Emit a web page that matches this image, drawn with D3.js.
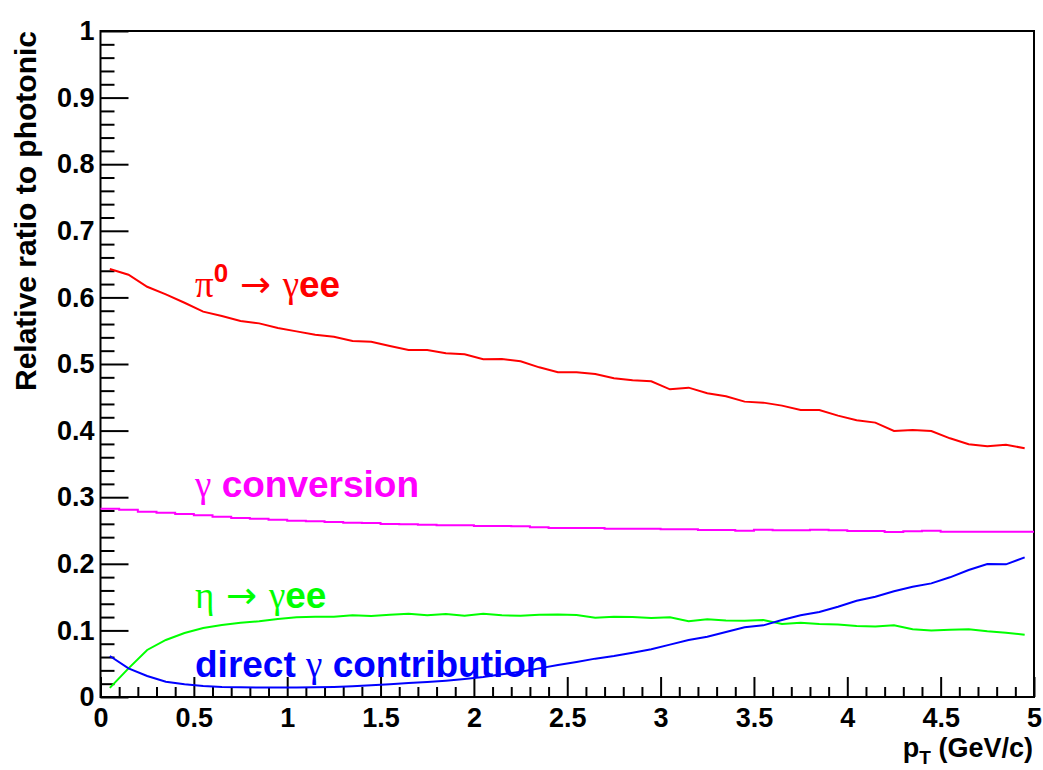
<!DOCTYPE html>
<html>
<head>
<meta charset="utf-8">
<script src="https://cdn.jsdelivr.net/npm/d3@7"></script>
<style>
  body { margin: 0; background: #fff; }
  svg { font-family: "Liberation Sans", Arial, sans-serif; font-weight: bold; }
  .greek { font-family: "Liberation Serif", "DejaVu Serif", serif; font-weight: normal; }
  .arrow { font-family: "DejaVu Sans", sans-serif; font-weight: normal; }
</style>
</head>
<body>
<div id="chart"></div>
<script>
// taille de la fenêtre
const width = 1043;
const height = 770;

// centres des bins (pas de 0.1 GeV/c) et bords des bins
const binCenters = d3.range(50).map(k => +(0.05 + 0.1 * k).toFixed(2));
const binEdges = d3.range(51).map(k => +(0.1 * k).toFixed(1));

// valeurs
const pi0Values = [0.6426, 0.634, 0.616, 0.6046, 0.592, 0.5786, 0.572, 0.5646, 0.561, 0.554,
  0.549, 0.544, 0.541, 0.5345, 0.5335, 0.527, 0.521, 0.521, 0.516, 0.5145,
  0.507, 0.5075, 0.504, 0.495, 0.4875, 0.4875, 0.485, 0.4785, 0.4755, 0.474,
  0.462, 0.4645, 0.456, 0.4515, 0.4435, 0.442, 0.4375, 0.431, 0.431, 0.4225,
  0.4155, 0.412, 0.3994, 0.401, 0.3994, 0.3884, 0.3794, 0.3764, 0.3789, 0.3734];

const conversionValues = [0.2827, 0.2812, 0.2782, 0.2767, 0.2748, 0.2728, 0.2707, 0.2688, 0.2677, 0.2662,
  0.2647, 0.2638, 0.2628, 0.2617, 0.2613, 0.2598, 0.2593, 0.2587, 0.2578, 0.2578,
  0.2568, 0.2568, 0.2563, 0.2548, 0.2538, 0.2538, 0.2538, 0.2528, 0.2528, 0.2528,
  0.2518, 0.2518, 0.2508, 0.2508, 0.2497, 0.2512, 0.2502, 0.2502, 0.2512, 0.2502,
  0.2492, 0.2492, 0.2477, 0.2487, 0.2497, 0.2482, 0.2482, 0.2482, 0.2482, 0.2482];

const etaValues = [0.0137, 0.043, 0.0706, 0.0856, 0.096, 0.1036, 0.108, 0.1116, 0.1136, 0.117,
  0.1196, 0.1206, 0.1206, 0.1226, 0.1216, 0.1236, 0.125, 0.1226, 0.1246, 0.122,
  0.125, 0.1226, 0.122, 0.1236, 0.124, 0.1231, 0.119, 0.1206, 0.12, 0.1186,
  0.1196, 0.1136, 0.1166, 0.115, 0.1146, 0.1156, 0.1096, 0.1116, 0.1096, 0.109,
  0.1066, 0.106, 0.1076, 0.1016, 0.1, 0.101, 0.1016, 0.0986, 0.0966, 0.0936];

const directValues = [0.0616, 0.043, 0.0315, 0.023, 0.019, 0.0165, 0.015, 0.0145, 0.0143, 0.0142,
  0.0142, 0.0145, 0.015, 0.016, 0.0175, 0.019, 0.021, 0.0225, 0.0245, 0.027,
  0.030, 0.034, 0.038, 0.043, 0.048, 0.0526, 0.0576, 0.0616, 0.0666, 0.0716,
  0.0786, 0.0856, 0.0906, 0.0976, 0.1046, 0.1076, 0.1156, 0.1226, 0.1276, 0.1356,
  0.1446, 0.1506, 0.1587, 0.1656, 0.1706, 0.1797, 0.1907, 0.1997, 0.1992, 0.2097];

// ticks
const xMajorTicks = [0, 0.5, 1, 1.5, 2, 2.5, 3, 3.5, 4, 4.5, 5];
const xTickLabels = ["0", "0.5", "1", "1.5", "2", "2.5", "3", "3.5", "4", "4.5", "5"];
const yMajorTicks = [0, 0.1, 0.2, 0.3, 0.4, 0.5, 0.6, 0.7, 0.8, 0.9, 1];
const yTickLabels = ["0", "0.1", "0.2", "0.3", "0.4", "0.5", "0.6", "0.7", "0.8", "0.9", "1"];

const x = d3.scaleLinear().domain([0, 5]).range([100.5, 1034]);
const y = d3.scaleLinear().domain([0, 1]).range([697, 31]);

const svg = d3.select("#chart").append("svg")
  .attr("width", width)
  .attr("height", height);

// --- axes ---
const xMinor = d3.range(0, 50).map(k => +(0.1 * k).toFixed(1)).filter(v => Math.abs(v * 2 - Math.round(v * 2)) > 1e-6);
const yMinor = d3.range(0, 50).map(k => +(0.02 * k).toFixed(2)).filter(v => Math.abs(v * 10 - Math.round(v * 10)) > 1e-6);

svg.append("g")
  .attr("transform", `translate(0,${y(0)})`)
  .call(d3.axisBottom(x).tickValues(xMinor).tickSize(-10).tickFormat(""))
  .call(g => g.select(".domain").remove());

svg.append("g")
  .attr("transform", `translate(0,${y(0)})`)
  .call(d3.axisBottom(x).tickValues(xMajorTicks).tickSize(-20)
    .tickFormat((d, i) => xTickLabels[i]))
  .call(g => g.select(".domain").remove())
  .call(g => g.selectAll("text").attr("font-size", 27).attr("font-family", null).attr("fill", "#000").attr("dy", "0.71em").attr("y", 11));

svg.append("g")
  .attr("transform", `translate(${x(0)},0)`)
  .call(d3.axisLeft(y).tickValues(yMinor).tickSize(-14).tickFormat(""))
  .call(g => g.select(".domain").remove());

svg.append("g")
  .attr("transform", `translate(${x(0)},0)`)
  .call(d3.axisLeft(y).tickValues(yMajorTicks).tickSize(-28)
    .tickFormat((d, i) => yTickLabels[i]))
  .call(g => g.select(".domain").remove())
  .call(g => g.selectAll("text").attr("font-size", 27).attr("font-family", null).attr("fill", "#000").attr("x", -6));

svg.selectAll(".tick line").attr("stroke", "#000").attr("stroke-width", 2);

// cadre
svg.append("rect")
  .attr("x", x(0)).attr("y", y(1))
  .attr("width", x(5) - x(0)).attr("height", y(0) - y(1))
  .attr("fill", "none").attr("stroke", "#000").attr("stroke-width", 2);

// --- courbes ---
const line = d3.line().x(d => x(d[0])).y(d => y(d[1]));
const stepLine = d3.line().x(d => x(d[0])).y(d => y(d[1])).curve(d3.curveStepAfter);

const curves = [
  { values: pi0Values, color: "#ff0000" },
  { values: etaValues, color: "#00ff00" },
  { values: directValues, color: "#0000ff" }
];

curves.forEach(c => {
  svg.append("path")
    .datum(binCenters.map((b, i) => [b, c.values[i]]))
    .attr("d", line)
    .attr("fill", "none")
    .attr("stroke", c.color)
    .attr("stroke-width", 2);
});

const convPoints = binEdges.map((e, i) => [e, conversionValues[Math.min(i, conversionValues.length - 1)]]);
svg.append("path")
  .datum(convPoints)
  .attr("d", stepLine)
  .attr("fill", "none")
  .attr("stroke", "#ff00ff")
  .attr("stroke-width", 2);

// --- étiquettes ---
function label(xp, yp, color, parts) {
  const t = svg.append("text")
    .attr("x", xp).attr("y", yp)
    .attr("fill", color)
    .attr("font-size", 37);
  parts.forEach(p => {
    const s = t.append("tspan").text(p.text);
    if (p.cls) s.attr("class", p.cls);
    if (p.sup) s.attr("font-size", 26).attr("dy", -15);
    if (p.down) s.attr("dy", 15);
  });
}

label(195, 297, "#ff0000", [
  { text: "π", cls: "greek" }, { text: "0", sup: true },
  { text: " → ", cls: "arrow", down: true }, { text: "γ", cls: "greek" }, { text: "ee" }
]);
label(195, 497, "#ff00ff", [{ text: "γ", cls: "greek" }, { text: " conversion" }]);
label(195, 608, "#00ff00", [
  { text: "η", cls: "greek" }, { text: " → ", cls: "arrow" }, { text: "γ", cls: "greek" }, { text: "ee" }
]);
label(195, 677, "#0000ff", [{ text: "direct " }, { text: "γ", cls: "greek" }, { text: " contribution" }]);

// titres des axes
svg.append("text")
  .attr("transform", `translate(36,${y(1)}) rotate(-90)`)
  .attr("text-anchor", "end")
  .attr("font-size", 30)
  .text("Relative ratio to photonic");

const xt = svg.append("text")
  .attr("x", 1033).attr("y", 757)
  .attr("text-anchor", "end")
  .attr("font-size", 27);
xt.append("tspan").text("p");
xt.append("tspan").attr("font-size", 19).attr("dy", 7).text("T");
xt.append("tspan").attr("dy", -7).text(" (GeV/c)");
</script>
</body>
</html>
